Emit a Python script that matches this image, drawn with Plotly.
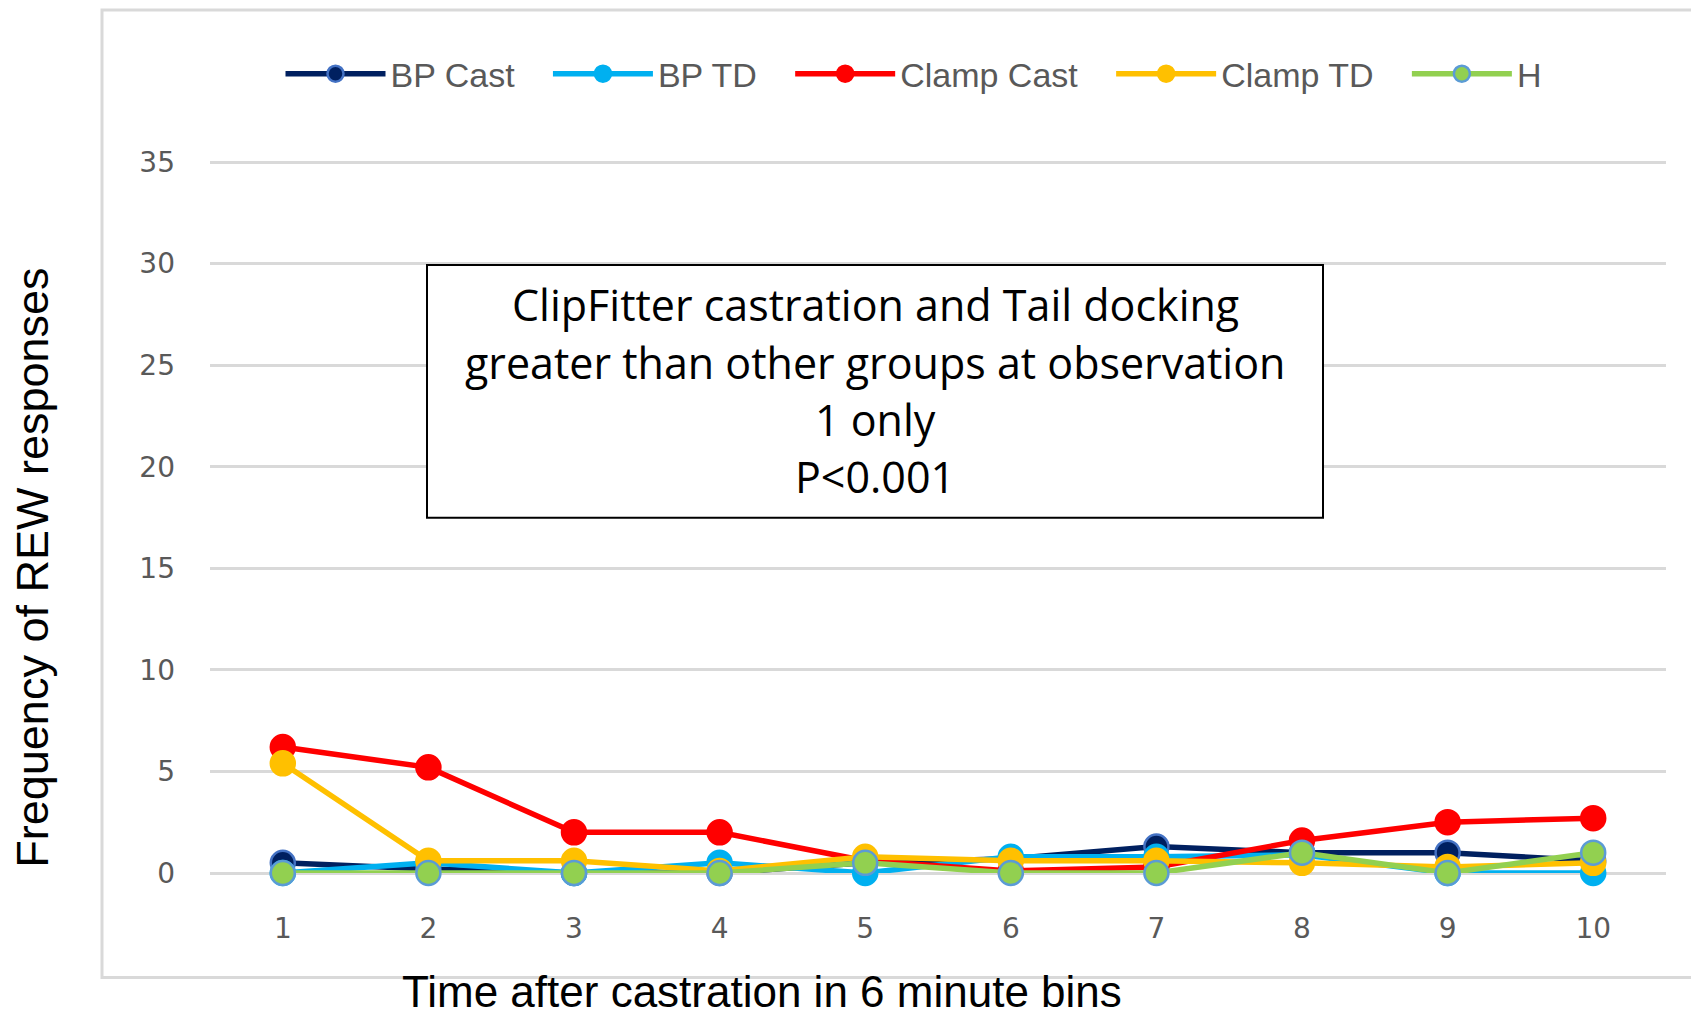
import plotly.graph_objects as go

# ---- data ----
bins = [1, 2, 3, 4, 5, 6, 7, 8, 9, 10]
bp_cast = [0.5, 0.2, 0.0, 0.0, 0.5, 0.7, 1.3, 1.0, 1.0, 0.6]
bp_td = [0.0, 0.5, 0.0, 0.5, 0.0, 0.8, 0.8, 0.9, 0.0, 0.0]
clamp_cast = [6.2, 5.2, 2.0, 2.0, 0.6, 0.1, 0.3, 1.6, 2.5, 2.7]
clamp_td = [5.4, 0.6, 0.6, 0.1, 0.8, 0.6, 0.6, 0.5, 0.3, 0.5]
h_vals = [0.0, 0.0, 0.0, 0.0, 0.5, 0.0, 0.0, 1.0, 0.0, 1.0]
y_ticks = [0, 5, 10, 15, 20, 25, 30, 35]
note_lines = ["ClipFitter castration and Tail docking",
              "greater than other groups at observation",
              "1 only",
              "P<0.001"]

series = [
    ("BP Cast", bp_cast, "#002060", "#4472C4"),
    ("BP TD", bp_td, "#00B0F0", "#00B0F0"),
    ("Clamp Cast", clamp_cast, "#FF0000", "#FF0000"),
    ("Clamp TD", clamp_td, "#FFC000", "#FFC000"),
    ("H", h_vals, "#92D050", "#5B9BD5"),
]

W, H = 1691, 1015
L, R, T, B = 210, 1666, 161, 873.5
pw, ph = R - L, B - T
YMAX = 35.05

def px(x):
    return (x - L) / pw

def py(y):
    return (B - y) / ph

fig = go.Figure()
for name, vals, col, edge in series:
    fig.add_trace(go.Scatter(
        x=bins, y=vals, name=name + "\u00a0\u00a0\u00a0", mode="lines+markers",
        line=dict(color=col, width=5.5),
        marker=dict(size=24, color=col, line=dict(color=edge, width=2.5)),
        cliponaxis=False,
    ))

tick_font = dict(family="DejaVu Sans", size=28, color="#595959")

fig.update_layout(
    width=W, height=H,
    margin=dict(l=L, r=W - R, t=T, b=H - B, pad=0),
    paper_bgcolor="white", plot_bgcolor="white",
    showlegend=True,
    legend=dict(orientation="h", x=px(928), y=py(74), xanchor="center", yanchor="middle",
                font=dict(family="Liberation Sans Narrow, Liberation Sans, sans-serif", size=34, color="#595959"),
                itemwidth=100, bgcolor="rgba(0,0,0,0)"),
    xaxis=dict(range=[0.5, 10.5], tickvals=bins, ticktext=[str(b) for b in bins],
               showgrid=False, zeroline=False, showline=False, ticks="",
               tickfont=tick_font, ticklabelstandoff=36, fixedrange=True),
    yaxis=dict(range=[0, YMAX], tickvals=y_ticks, showgrid=True, gridcolor="#d9d9d9", gridwidth=2.5,
               zeroline=True, zerolinecolor="#d9d9d9", zerolinewidth=2.5, showline=False, ticks="",
               tickfont=tick_font, ticklabelstandoff=34, fixedrange=True),
)

shapes = [
    # outer chart border
    dict(type="rect", xref="paper", yref="paper", x0=px(102), x1=px(1700), y0=py(978), y1=py(10),
         line=dict(color="#d9d9d9", width=3), fillcolor="rgba(0,0,0,0)", layer="below"),
    # note box
    dict(type="rect", xref="paper", yref="paper", x0=px(427), x1=px(1323), y0=py(518), y1=py(265),
         line=dict(color="black", width=2), fillcolor="white", layer="above"),
]
fig.update_layout(shapes=shapes)

annos = []
for line, yc in zip(note_lines, [305, 363, 420, 477]):
    annos.append(dict(text=line, xref="paper", yref="paper", x=px(875), y=py(yc),
                      xanchor="center", yanchor="middle", showarrow=False,
                      font=dict(family="Open Sans", size=43, color="black")))
annos.append(dict(text="Time after castration in 6 minute bins", xref="paper", yref="paper",
                  x=px(762), y=py(992), xanchor="center", yanchor="middle", showarrow=False,
                  font=dict(family="Liberation Sans Narrow, Liberation Sans, sans-serif", size=44, color="black")))
annos.append(dict(text="Frequency of REW responses", xref="paper", yref="paper",
                  x=px(33), y=py(568), xanchor="center", yanchor="middle", showarrow=False, textangle=-90,
                  font=dict(family="Liberation Sans Narrow, Liberation Sans, sans-serif", size=45, color="black")))
fig.update_layout(annotations=annos)

fig.write_html("out.html")
